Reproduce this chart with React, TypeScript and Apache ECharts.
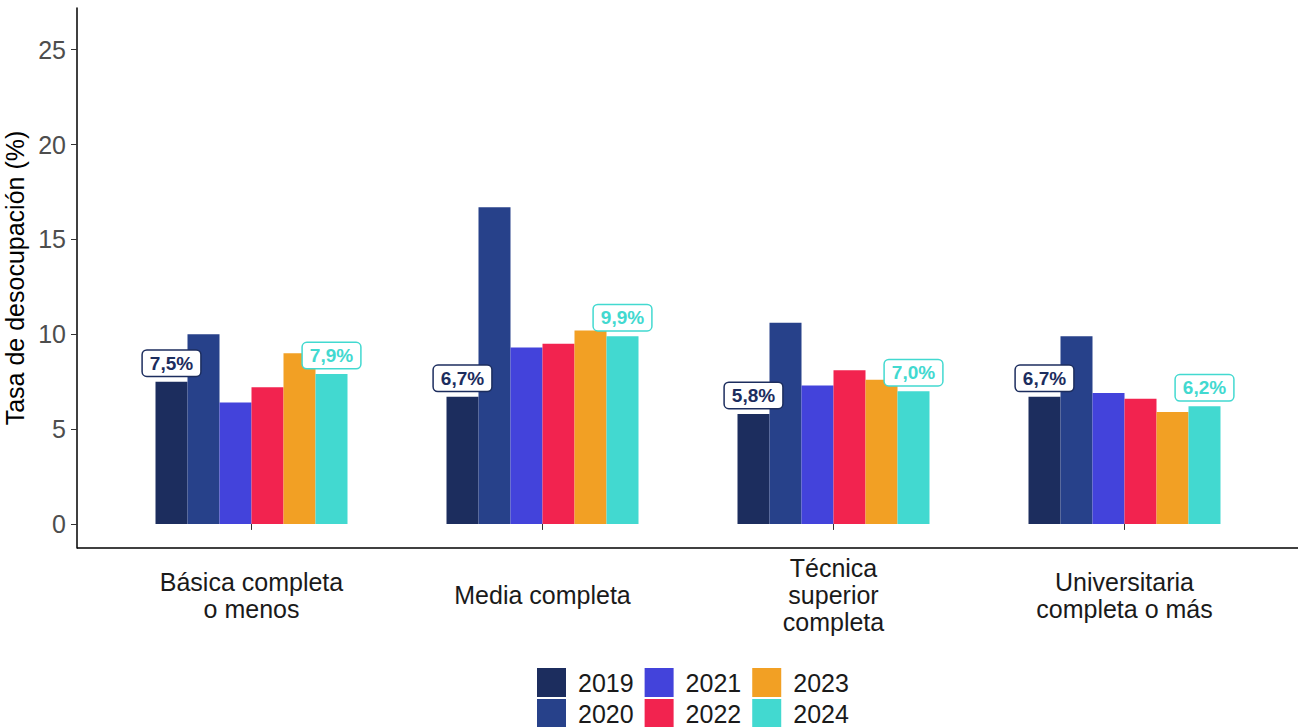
import React, { useEffect, useRef } from "react";
import * as echarts from "echarts";

const categories = [
  "Básica completa\no menos",
  "Media completa",
  "Técnica\nsuperior\ncompleta",
  "Universitaria\ncompleta o más",
];
const years = ["2019", "2020", "2021", "2022", "2023", "2024"];
const v2019 = [7.5, 6.7, 5.8, 6.7];
const v2020 = [10.0, 16.7, 10.6, 9.9];
const v2021 = [6.4, 9.3, 7.3, 6.9];
const v2022 = [7.2, 9.5, 8.1, 6.6];
const v2023 = [9.0, 10.2, 7.6, 5.9];
const v2024 = [7.9, 9.9, 7.0, 6.2];
const yTicks = [0, 5, 10, 15, 20, 25];
const colors = ["#1c2d5e", "#27418a", "#4343db", "#f2234f", "#f2a024", "#42d9d0"];
const labelledYears = ["2019", "2024"];
const legendRow1 = ["2019", "2021", "2023"];
const legendRow2 = ["2020", "2022", "2024"];

const FONT = "'Liberation Sans', Arial, sans-serif";

const fmt = (v: number) => v.toFixed(1).replace(".", ",") + "%";

export default function App() {
  const ref = useRef<HTMLDivElement>(null);
  useEffect(() => {
    document.body.style.margin = "0";
    if (!ref.current) return;
    const chart = echarts.init(ref.current, null, { renderer: "svg" });
    const values = [v2019, v2020, v2021, v2022, v2023, v2024];
    const series = years.map((y, i) => {
      const labelled = labelledYears.includes(y);
      return {
        type: "bar",
        name: y,
        data: values[i],
        barWidth: 32,
        barGap: "0%",
        itemStyle: { color: colors[i] },
        label: labelled
          ? {
              show: true,
              position: "top",
              distance: 6,
              formatter: (p: any) => fmt(p.value),
              color: colors[i],
              fontWeight: "bold",
              fontSize: 19,
              fontFamily: FONT,
              backgroundColor: "#ffffff",
              borderColor: colors[i],
              borderWidth: 1.5,
              borderRadius: 4,
              padding: [3, 7, 3, 7],
            }
          : { show: false },
      };
    });
    const legendBase = {
      orient: "horizontal",
      left: 537,
      padding: 0,
      itemWidth: 29,
      itemHeight: 29,
      itemGap: 11,
      icon: "rect",
      selectedMode: false,
      textStyle: {
        fontSize: 25,
        color: "#1a1a1a",
        fontFamily: FONT,
        padding: [0, 0, 0, 7],
      },
    };
    chart.setOption({
      animation: false,
      textStyle: { fontFamily: FONT },
      grid: {
        left: 106,
        right: 36,
        top: 8,
        bottom: 179,
        containLabel: false,
        outerBoundsMode: "none",
      },
      legend: [
        { ...legendBase, top: 668, data: legendRow1 },
        { ...legendBase, top: 699, data: legendRow2 },
      ],
      xAxis: {
        type: "category",
        data: categories,
        axisLine: { show: false },
        axisTick: {
          show: true,
          alignWithLabel: true,
          length: 6,
          lineStyle: { color: "#333333", width: 1 },
        },
        axisLabel: {
          interval: 0,
          fontSize: 25,
          color: "#1a1a1a",
          fontFamily: FONT,
          lineHeight: 27,
          margin: 47,
          verticalAlign: "middle",
        },
      },
      yAxis: {
        type: "value",
        min: -1.27,
        max: 27.2,
        offset: 29,
        name: "Tasa de desocupación (%)",
        nameLocation: "middle",
        nameGap: 43,
        nameTextStyle: { fontSize: 25, color: "#000000", fontFamily: FONT },
        axisLine: { show: true, lineStyle: { color: "#000000", width: 1.5 } },
        axisTick: {
          show: true,
          length: 6,
          customValues: yTicks,
          lineStyle: { color: "#333333", width: 1 },
        },
        axisLabel: {
          customValues: yTicks,
          fontSize: 25,
          color: "#4d4d4d",
          fontFamily: FONT,
          margin: 11,
        },
        splitLine: { show: false },
      },
      graphic: [
        {
          type: "line",
          shape: { x1: 77, y1: 548, x2: 1298, y2: 548 },
          style: { stroke: "#000000", lineWidth: 1.5 },
          silent: true,
        },
      ],
      series,
    });
    return () => chart.dispose();
  }, []);
  return <div ref={ref} style={{ width: 1306, height: 727 }} />;
}
